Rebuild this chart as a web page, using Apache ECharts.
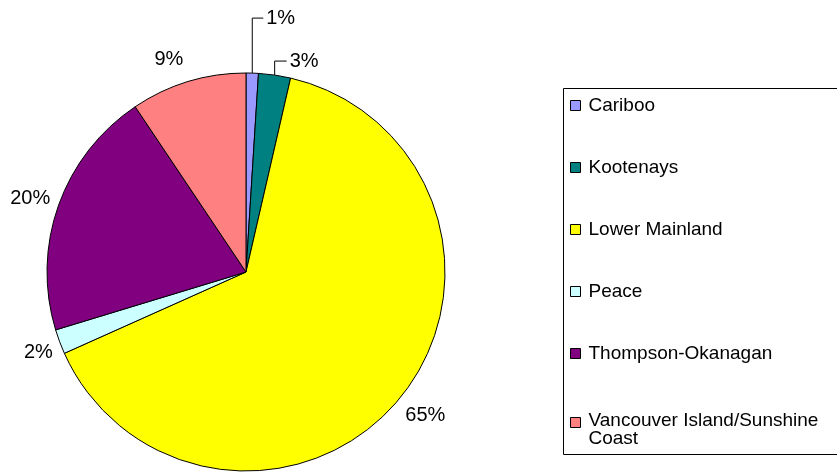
<!DOCTYPE html>
<html><head><meta charset="utf-8">
<script src="https://cdn.jsdelivr.net/npm/echarts@6/dist/echarts.min.js"></script>
<style>html,body{margin:0;padding:0;background:#fff}#c{width:837px;height:472px}</style>
</head><body><div id="c"></div>
<script>
// ---- data ----
const categories = ['Cariboo', 'Kootenays', 'Lower Mainland', 'Peace', 'Thompson-Okanagan', 'Vancouver Island/Sunshine Coast'];
const shares = [1.0, 2.6, 64.7, 2.0, 20.3, 9.4];
const colors = ['#9999FF', '#008080', '#FFFF00', '#CCFFFF', '#800080', '#FF8080'];

// ---- layout / style ----
const FONT = "'Liberation Sans', Arial, sans-serif";
const CX = 246, CY = 272, R = 199;
const LABEL_R = 227;
const leaderRise = [55, 14];
const leaderRun = [11, 12];
const labelNudge = [[0, 0], [0, 0], [4, -1], [5, 1], [-2, 3], [-11, 5]];

const total = shares.reduce((a, b) => a + b, 0);
const midAngles = [];
let acc = 0;
shares.forEach(v => { midAngles.push((acc + v / 2) / total * 2 * Math.PI); acc += v; });

const chart = echarts.init(document.getElementById('c'), null, { renderer: 'canvas' });
const legendText = { fontFamily: FONT, fontSize: 19, lineHeight: 19, color: '#000', padding: [0, 0, 0, 3] };
chart.setOption({
  animation: false,
  color: colors,
  graphic: [{
    type: 'rect', shape: { x: 563.5, y: 88.5, width: 300, height: 366 },
    style: { fill: 'none', stroke: '#000', lineWidth: 1 }
  }],
  legend: [{
    orient: 'vertical', left: 570, top: 96, padding: 0, itemWidth: 10, itemHeight: 10, itemGap: 43,
    icon: 'rect', selectedMode: false,
    itemStyle: { borderColor: '#000', borderWidth: 1 },
    textStyle: legendText,
    data: categories.slice(0, 5)
  }, {
    orient: 'vertical', left: 570, top: 411, padding: 0, itemWidth: 10, itemHeight: 24,
    icon: 'path://M0,0H10V10H0ZM0,24L0,24', selectedMode: false,
    itemStyle: { borderColor: '#000', borderWidth: 1 },
    textStyle: Object.assign({}, legendText, { lineHeight: 18 }),
    formatter: name => name.replace(' Coast', '\nCoast'),
    data: categories.slice(5)
  }],
  series: [{
    type: 'pie',
    center: [CX, CY],
    radius: R,
    startAngle: 90,
    clockwise: true,
    avoidLabelOverlap: false,
    itemStyle: { borderColor: '#000', borderWidth: 1 },
    emphasis: { disabled: true },
    label: {
      show: true, position: 'outside',
      formatter: p => Math.round(p.percent) + '%',
      fontFamily: FONT, fontSize: 20, color: '#000'
    },
    labelLine: { show: true, lineStyle: { color: '#000', width: 1 } },
    labelLayout: function (p) {
      const i = p.dataIndex, a = midAngles[i];
      const sx = Math.sin(a), sy = -Math.cos(a);
      if (i < 2) {
        const ex = CX + R * sx, ey = CY + R * sy;
        const ty = ey - leaderRise[i];
        const tx = ex + leaderRun[i];
        return { x: tx + 3, y: ty, align: 'left', verticalAlign: 'middle',
                 labelLinePoints: [[ex, ey], [ex, ty], [tx, ty]] };
      }
      return { x: CX + LABEL_R * sx + labelNudge[i][0], y: CY + LABEL_R * sy + labelNudge[i][1],
               align: 'center', verticalAlign: 'middle' };
    },
    data: categories.map((n, i) => ({ name: n, value: shares[i], labelLine: { show: i < 2 } }))
  }]
});
</script></body></html>
